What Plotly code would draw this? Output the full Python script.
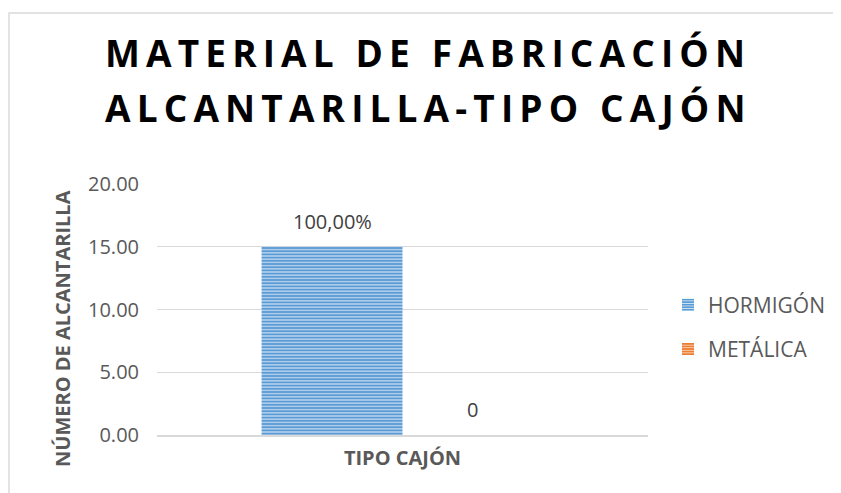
import plotly.graph_objects as go

categories = ["TIPO CAJÓN"]
series_names = ["HORMIGÓN", "METÁLICA"]
hormigon = [15]
metalica = [0]
labels_hormigon = ["100,00%"]
labels_metalica = ["0"]
y_ticks = [0, 5, 10, 15, 20]
title_lines = ["MATERIAL DE FABRICACIÓN", "ALCANTARILLA-TIPO CAJÓN"]
y_title = "NÚMERO DE ALCANTARILLA"


def spaced(s, sp="\u2009"):
    return sp.join(list(s))


fig = go.Figure()
fig.add_trace(go.Bar(
    x=categories, y=hormigon, name=series_names[0], legendgroup="a",
    marker=dict(color="#5B9BD5", line=dict(width=0),
                pattern=dict(shape="-", bgcolor="#5B9BD5", fgcolor="#E2EEF9", size=3.2,
                             solidity=0.3, fillmode="replace")),
))
fig.add_trace(go.Bar(
    x=categories, y=metalica, name=series_names[1], legendgroup="b",
    marker=dict(color="#ED7D31", line=dict(width=0),
                pattern=dict(shape="-", bgcolor="#ED7D31", fgcolor="#FBE3D3", size=3.2,
                             solidity=0.3, fillmode="replace")),
))

for lab, val, shift in [(labels_hormigon[0], hormigon[0], -70), (labels_metalica[0], metalica[0], 70)]:
    fig.add_annotation(x=categories[0], y=val, text=lab, showarrow=False, xshift=shift,
                       yshift=10, yanchor="bottom",
                       font=dict(family="Open Sans", size=20, color="#404040"))

# title lines
for i, line in enumerate(title_lines):
    fig.add_annotation(xref="paper", yref="paper", x=(417 - 149) / 491,
                       y=(427 - (44 + 55 * i)) / 251, xanchor="center", yanchor="middle",
                       text="<b>" + spaced(line) + "</b>", showarrow=False,
                       font=dict(family="Open Sans", size=37, color="#000000"))

# y-axis title
fig.add_annotation(xref="paper", yref="paper", x=(54 - 149) / 491, y=(427 - 321) / 251,
                   xanchor="center", yanchor="middle", textangle=-90, showarrow=False,
                   text="<b>" + y_title + "</b>",
                   font=dict(family="Open Sans", size=20, color="#595959"))

fig.add_shape(type="rect", xref="paper", yref="paper", x0=-0.3014, x1=2, y0=-1, y1=1.681,
              line=dict(color="#D9D9D9", width=1.5), fillcolor="rgba(0,0,0,0)", layer="below")

fig.update_layout(
    width=833, height=485,
    margin=dict(l=149, r=193, t=176, b=58, autoexpand=False),
    paper_bgcolor="white", plot_bgcolor="white",
    barmode="group", bargap=0.426, bargroupgap=0,
    font=dict(family="Open Sans", color="#595959"),
    yaxis=dict(range=[0, 20], tickvals=y_ticks, tickformat=".2f", showgrid=True,
               gridcolor="#D9D9D9", gridwidth=1, zeroline=False, showline=False,
               ticks="", ticklabelstandoff=17,
               tickfont=dict(family="Open Sans", size=20, color="#595959")),
    xaxis=dict(showline=True, linecolor="#D9D9D9", linewidth=1.5, ticks="",
               ticklabelstandoff=4,
               tickfont=dict(family="Open Sans", size=20, color="#595959", weight="bold")),
    legend=dict(x=(660 - 149) / 491, y=0.43, xanchor="left", yanchor="middle", tracegroupgap=14,
                font=dict(family="Open Sans", size=21, color="#595959"),
                itemwidth=30),
    showlegend=True,
)

fig.write_html("out.html")
